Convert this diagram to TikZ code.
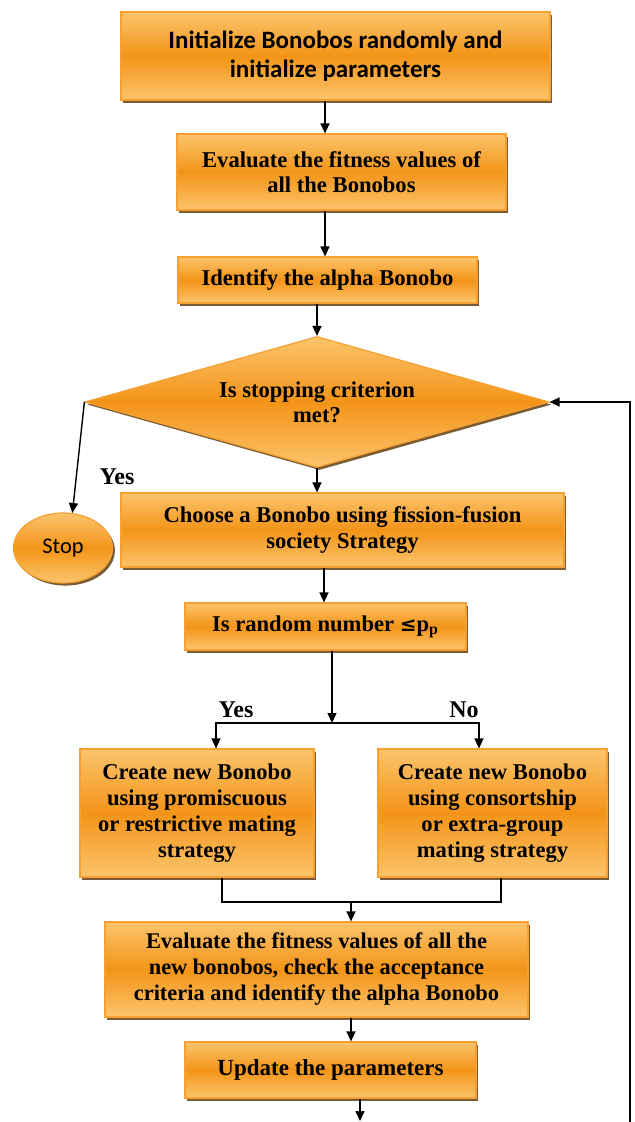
\documentclass[tikz,border=0pt]{standalone}
\usepackage{fontspec}
\setmainfont{Liberation Serif}
\newfontfamily\calibrifont{Carlito}
\usetikzlibrary{shapes.geometric,shadows,arrows.meta}
\definecolor{olight}{HTML}{FCC46C}
\definecolor{odark}{HTML}{F39418}
\definecolor{oborder}{HTML}{F5A030}
\definecolor{oshadow}{HTML}{6B4A1E}
\begin{document}
\begin{tikzpicture}[x=0.5pt,y=-0.5pt,
  obox/.style={draw=oborder, line width=0.6pt, top color=olight, bottom color=olight, middle color=odark,
    drop shadow={shadow xshift=1.2pt, shadow yshift=-1.3pt, fill=oshadow, opacity=0.9},
    align=center, inner sep=1pt, font=\bfseries\fontsize{11.3}{12.6}\selectfont},
  arr/.style={-{Triangle[length=5pt,width=4.5pt]}, line width=0.7pt},
  ln/.style={line width=0.7pt},
  lbl/.style={font=\bfseries\fontsize{12}{13}\selectfont}]
\fill[white] (0,0) rectangle (635,1122);
\useasboundingbox (0,0) rectangle (635,1122);

\node[obox, minimum width=214.5pt, minimum height=44pt, font=\calibrifont\bfseries\fontsize{12.5}{14.5}\selectfont] (b1) at (335.5,56) {Initialize Bonobos randomly and\\initialize parameters};
\node[obox, minimum width=164.5pt, minimum height=38pt] (b2) at (341.5,172) {Evaluate the fitness values of\\all the Bonobos};
\node[obox, minimum width=149.5pt, minimum height=23pt] (b3) at (327.5,280) {Identify the alpha Bonobo};
\node[obox, diamond, aspect=3.54, minimum width=232pt, minimum height=65.5pt, inner sep=0pt] (d) at (317,402) {Is stopping criterion\\met?};
\node[obox, minimum width=221.5pt, minimum height=37pt] (b4) at (342.5,530) {Choose a Bonobo using fission-fusion\\society Strategy};
\node[obox, ellipse, minimum width=49.5pt, minimum height=35pt, font=\calibrifont\fontsize{11.2}{12}\selectfont] (stop) at (63,548) {Stop};
\node[obox, minimum width=140.5pt, minimum height=23.5pt] (b5) at (325.5,626.5) {Is random number {\fontspec{DejaVu Serif}\fontsize{10}{10}\selectfont ≤}p\textsubscript{p}};
\node[obox, minimum width=117pt, minimum height=64pt, font=\bfseries\fontsize{11.3}{13}\selectfont] (b6l) at (197,813) {Create new Bonobo\\using promiscuous\\or restrictive mating\\strategy};
\node[obox, minimum width=114.5pt, minimum height=64pt, font=\bfseries\fontsize{11.3}{13}\selectfont] (b6r) at (492.5,813) {Create new Bonobo\\using consortship\\or extra-group\\mating strategy};
\node[obox, minimum width=211.5pt, minimum height=47.5pt, font=\bfseries\fontsize{11.2}{13}\selectfont] (b7) at (316.5,969.5) {Evaluate the fitness values of all the\\new bonobos, check the acceptance\\criteria and identify the alpha Bonobo};
\node[obox, minimum width=145.5pt, minimum height=28pt, font=\bfseries\fontsize{11.5}{13}\selectfont] (b8) at (330.5,1070) {Update the parameters};

\node[lbl] (y1) at (117,477) {Yes};
\node[lbl] (y2) at (236,710) {Yes};
\node[lbl] (n2) at (464,710) {No};

\coordinate (ca) at (325,0);
\coordinate (cb) at (324,0);
\draw[arr] (b1.south -| ca) -- (b2.north -| ca);
\draw[arr] (b2.south -| ca) -- (b3.north -| ca);
\draw[arr] (b3.south -| d.north) -- (d.north);
\draw[arr] (d.south) -- (d.south |- b4.north);
\draw[arr] (d.west) -- (stop.75);
\draw[arr] (b4.south -| cb) -- (b5.north -| cb);
\coordinate (j1) at (332,723);
\coordinate (jl) at (216,723);
\coordinate (jr) at (479,723);
\draw[arr] (b5.south -| j1) -- (j1);
\draw[arr] (j1) -- (jl) -- (b6l.north -| jl);
\draw[arr] (j1) -- (jr) -- (b6r.north -| jr);
\coordinate (ml) at (222,902);
\coordinate (mr) at (501,902);
\coordinate (m) at (351,902);
\draw[ln] (b6l.south -| ml) -- (ml) -- (mr) -- (b6r.south -| mr);
\draw[arr] (m) -- (b7.north -| m);
\draw[arr] (b7.south -| m) -- (b8.north -| m);
\coordinate (e1) at (360,1121);
\draw[arr] (b8.south -| e1) -- (e1);
\coordinate (e2) at (630,1122);
\draw[arr] (e2) -- (e2 |- d.east) -- (d.east);
\end{tikzpicture}
\end{document}
